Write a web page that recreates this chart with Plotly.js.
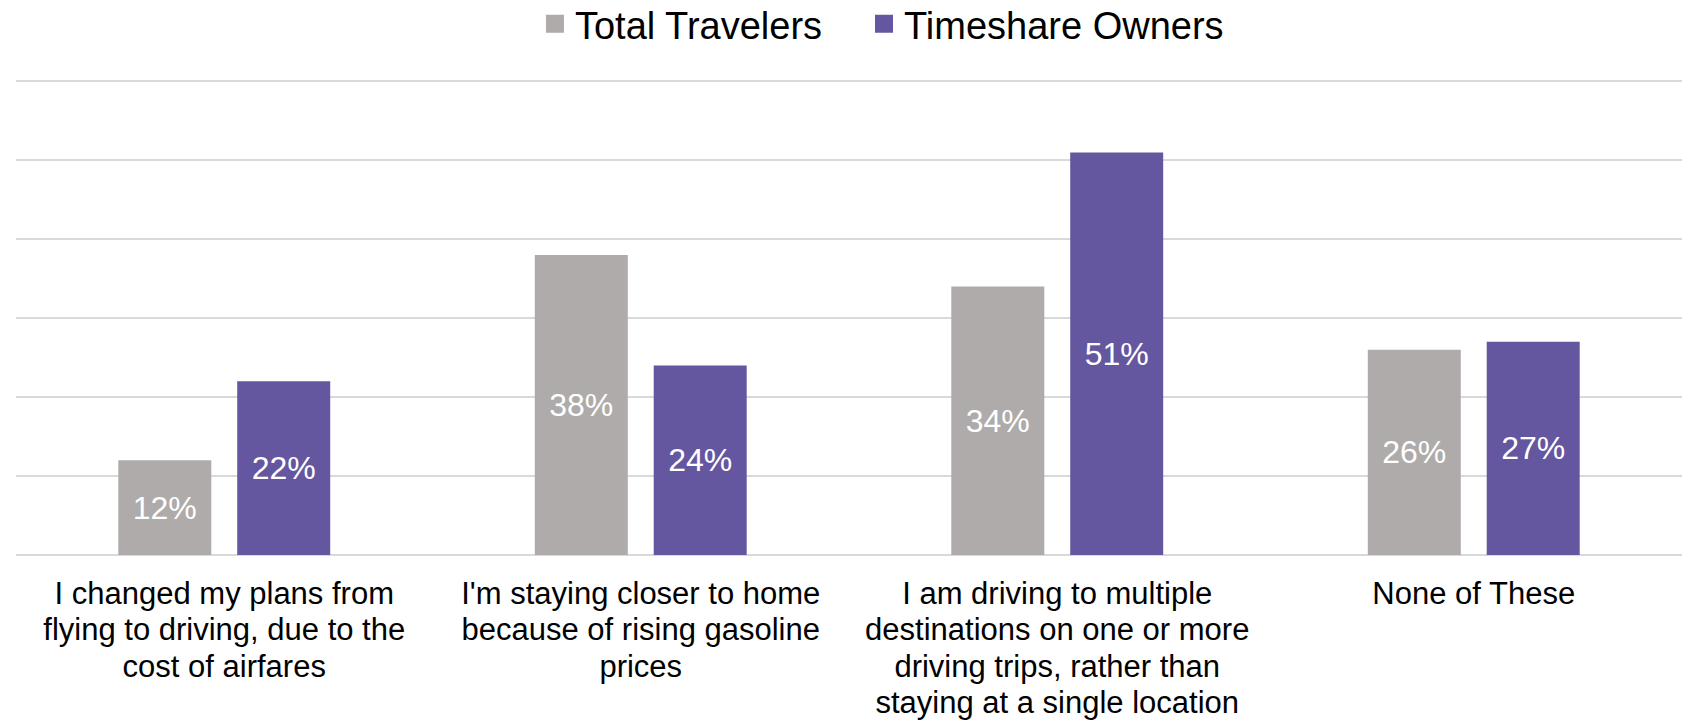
<!DOCTYPE html>
<html>
<head>
<meta charset="utf-8">
<script src="https://cdn.plot.ly/plotly-3.0.1.min.js"></script>
<style>html,body{margin:0;padding:0;background:#fff;}#chart{width:1691px;height:721px;}</style>
</head>
<body>
<div id="chart"></div>
<script>
const categoryLines = [
  ["I changed my plans from", "flying to driving, due to the", "cost of airfares"],
  ["I'm staying closer to home", "because of rising gasoline", "prices"],
  ["I am driving to multiple", "destinations on one or more", "driving trips, rather than", "staying at a single location"],
  ["None of These"]
];
const seriesNames = ["Total Travelers", "Timeshare Owners"];
const totalTravelers = [12, 38, 34, 26];
const timeshareOwners = [22, 24, 51, 27];
const colors = ["#AEABAA", "#6457A0"];

const font = "Liberation Sans, Arial, sans-serif";
const pct = v => v + "%";
const categories = categoryLines.map(lines =>
  lines.map(l => '<span style="font-size:31px">' + l + '</span>').join("<br>")
);

const traces = [totalTravelers, timeshareOwners].map((vals, i) => ({
  type: "bar",
  x: categories,
  y: vals,
  name: seriesNames[i],
  marker: {color: colors[i]},
  text: vals.map(pct),
  textposition: "inside",
  insidetextanchor: "middle",
  textfont: {color: "#ffffff", size: 32, family: font},
  hoverinfo: "none",
  showlegend: false
}));

const legendIds = ["legend", "legend2"];
seriesNames.forEach((n, i) => {
  traces.push({
    type: "scatter",
    mode: "markers",
    x: [null],
    y: [null],
    name: n,
    legend: legendIds[i],
    marker: {symbol: "square", size: 16, color: colors[i], line: {color: colors[i], width: 2}},
    hoverinfo: "none",
    showlegend: true
  });
});

const legendBase = {
  orientation: "h",
  xanchor: "left",
  y: 1.1155, yanchor: "middle",
  font: {size: 38, family: font, color: "#000000"},
  bgcolor: "rgba(0,0,0,0)",
  itemclick: false
};

const layout = {
  width: 1691,
  height: 721,
  margin: {l: 16, r: 9, t: 79, b: 166, autoexpand: false},
  paper_bgcolor: "#ffffff",
  plot_bgcolor: "#ffffff",
  font: {family: font, color: "#000000"},
  barmode: "group",
  bargap: 0.429,
  bargroupgap: 0.218,
  showlegend: true,
  legend: Object.assign({}, legendBase, {x: 0.3115}),
  legend2: Object.assign({}, legendBase, {x: 0.509}),
  xaxis: {
    type: "category",
    ticks: "",
    showline: false,
    showgrid: false,
    tickfont: {size: 28, family: font, color: "#000000"},
    ticklabelstandoff: 20,
    automargin: false
  },
  yaxis: {
    range: [0, 60.3],
    dtick: 10,
    tick0: 0,
    showticklabels: false,
    ticks: "",
    showgrid: true,
    gridcolor: "#D9D9D9",
    gridwidth: 2,
    zeroline: true,
    zerolinecolor: "#D9D9D9",
    zerolinewidth: 2,
    showline: false,
    automargin: false,
    fixedrange: true
  }
};

Plotly.newPlot("chart", traces, layout, {displayModeBar: false, staticPlot: true});
</script>
</body>
</html>
